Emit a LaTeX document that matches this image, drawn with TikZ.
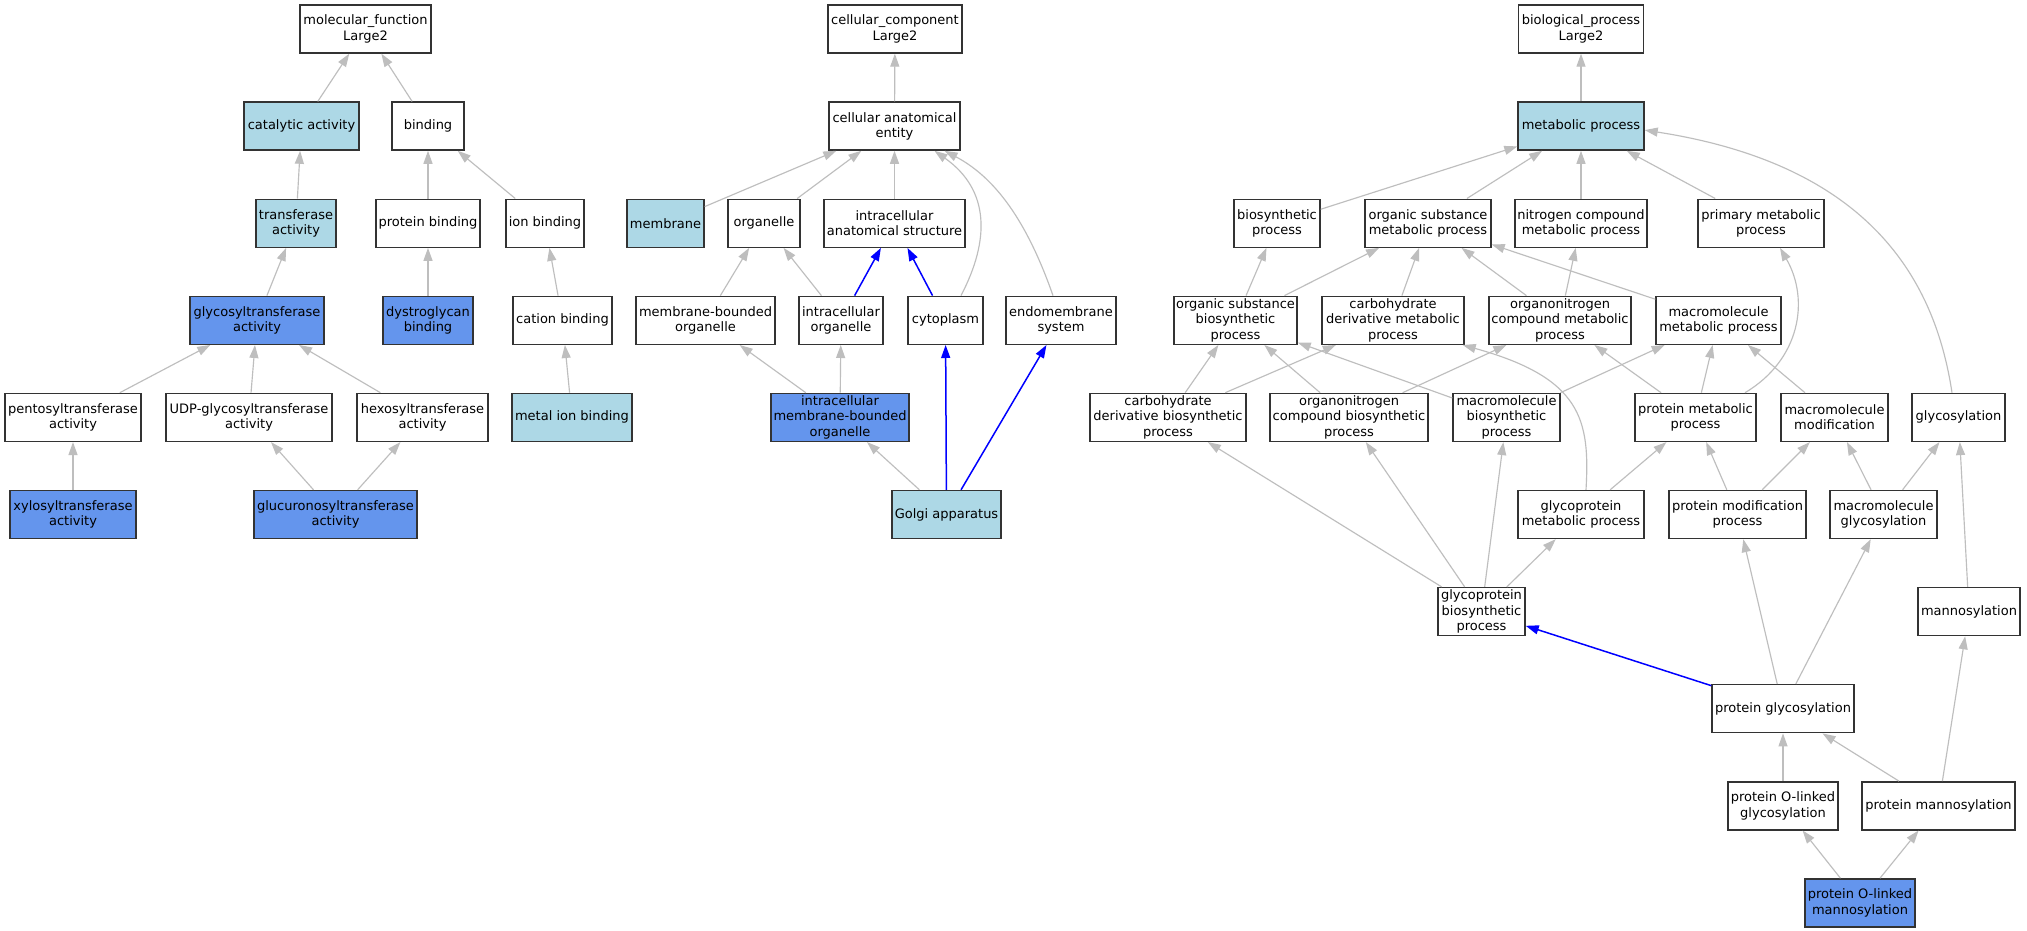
\documentclass[tikz,border=0pt]{standalone}
\usepackage{fontspec}
\setmainfont{DejaVu Sans}
\usetikzlibrary{arrows.meta}
\definecolor{lb}{HTML}{ADD8E6}
\definecolor{cb}{HTML}{6495ED}
\definecolor{eg}{HTML}{BEBEBE}
\begin{document}
\begin{tikzpicture}[x=1pt,y=-1pt,
  go/.style={draw=black!80, line width=1.4pt, fill=white, align=center,
    minimum height=48pt, inner xsep=0.5pt, inner ysep=0.5pt,
    font=\fontsize{13}{15.3}\selectfont},
  lbn/.style={go, fill=lb},
  cbn/.style={go, fill=cb},
  ge/.style={draw=eg, line width=1.15pt, -{Triangle[length=13pt,width=9pt]}},
  be/.style={draw=blue, line width=1.5pt, -{Triangle[length=13pt,width=9pt]}}]
\useasboundingbox (0,0) rectangle (2027,931);
\fill[white] (0,0) rectangle (2027,931);
% ---------- molecular function ----------
\node[go, minimum width=131pt] (mf) at (365.5,29) {molecular\_function\\Large2};
\node[lbn, minimum width=115pt] (cat) at (301.5,126.1) {catalytic activity};
\node[go, minimum width=72pt] (bind) at (428,126.1) {binding};
\node[lbn, minimum width=80pt] (trans) at (296,223.2) {transferase\\activity};
\node[go, minimum width=104pt] (pbind) at (428,223.2) {protein binding};
\node[go, minimum width=78pt] (ion) at (545,223.2) {ion binding};
\node[cbn, minimum width=134pt] (gt) at (257,320.3) {glycosyltransferase\\activity};
\node[cbn, minimum width=90pt] (dys) at (428,320.3) {dystroglycan\\binding};
\node[go, minimum width=99pt] (cation) at (562.5,320.3) {cation binding};
\node[go, minimum width=136pt] (pent) at (73,417.4) {pentosyltransferase\\activity};
\node[go, minimum width=166pt] (udp) at (249,417.4) {UDP-glycosyltransferase\\activity};
\node[go, minimum width=131pt] (hex) at (422.5,417.4) {hexosyltransferase\\activity};
\node[lbn, minimum width=120pt] (metal) at (572,417.4) {metal ion binding};
\node[cbn, minimum width=126pt] (xyl) at (73,514.5) {xylosyltransferase\\activity};
\node[cbn, minimum width=163pt] (glu) at (335.5,514.5) {glucuronosyltransferase\\activity};
% ---------- cellular component ----------
\node[go, minimum width=134pt] (cc) at (895,29) {cellular\_component\\Large2};
\node[go, minimum width=131pt] (cae) at (894.5,126.1) {cellular anatomical\\entity};
\node[lbn, minimum width=77pt] (memb) at (665.5,223.2) {membrane};
\node[go, minimum width=72pt] (org) at (764,223.2) {organelle};
\node[go, minimum width=141pt] (ias) at (894.5,223.2) {intracellular\\anatomical structure};
\node[go, minimum width=139pt] (mbo) at (705.5,320.3) {membrane-bounded\\organelle};
\node[go, minimum width=84pt] (io) at (841,320.3) {intracellular\\organelle};
\node[go, minimum width=75pt] (cyto) at (945.5,320.3) {cytoplasm};
\node[go, minimum width=110pt] (endo) at (1061,320.3) {endomembrane\\system};
\node[cbn, minimum width=138pt] (imbo) at (840,417.4) {intracellular\\membrane-bounded\\organelle};
\node[lbn, minimum width=109pt] (golgi) at (946.5,514.5) {Golgi apparatus};
% ---------- biological process ----------
\node[go, minimum width=125pt] (bp) at (1581,29) {biological\_process\\Large2};
\node[lbn, minimum width=126pt] (met) at (1581,126.1) {metabolic process};
\node[go, minimum width=86pt] (bio) at (1277,223.2) {biosynthetic\\process};
\node[go, minimum width=126pt] (osm) at (1428,223.2) {organic substance\\metabolic process};
\node[go, minimum width=132pt] (ncm) at (1581,223.2) {nitrogen compound\\metabolic process};
\node[go, minimum width=126pt] (prim) at (1761,223.2) {primary metabolic\\process};
\node[go, minimum width=123pt] (osb) at (1235.5,320.3) {organic substance\\biosynthetic\\process};
\node[go, minimum width=142pt] (cdm) at (1393,320.3) {carbohydrate\\derivative metabolic\\process};
\node[go, minimum width=142pt] (onm) at (1560,320.3) {organonitrogen\\compound metabolic\\process};
\node[go, minimum width=125pt] (mmp) at (1718.5,320.3) {macromolecule\\metabolic process};
\node[go, minimum width=156pt] (cdb) at (1168,417.4) {carbohydrate\\derivative biosynthetic\\process};
\node[go, minimum width=158pt] (onb) at (1349,417.4) {organonitrogen\\compound biosynthetic\\process};
\node[go, minimum width=107pt] (mb) at (1506.5,417.4) {macromolecule\\biosynthetic\\process};
\node[go, minimum width=121pt] (pmp) at (1695.5,417.4) {protein metabolic\\process};
\node[go, minimum width=107pt] (mm) at (1834.5,417.4) {macromolecule\\modification};
\node[go, minimum width=93pt] (glyc) at (1958.5,417.4) {glycosylation};
\node[go, minimum width=126pt] (gpm) at (1581,514.5) {glycoprotein\\metabolic process};
\node[go, minimum width=137pt] (pm) at (1737.5,514.5) {protein modification\\process};
\node[go, minimum width=107pt] (mg) at (1883.5,514.5) {macromolecule\\glycosylation};
\node[go, minimum width=102pt] (mann) at (1969,611.6) {mannosylation};
\node[go, minimum width=87pt] (gpb) at (1481.5,611.6) {glycoprotein\\biosynthetic\\process};
\node[go, minimum width=142pt] (pg) at (1783,708.7) {protein glycosylation};
\node[go, minimum width=110pt] (pol) at (1783,805.8) {protein O-linked\\glycosylation};
\node[go, minimum width=153pt] (pman) at (1938.5,805.8) {protein mannosylation};
\node[cbn, minimum width=110pt] (polm) at (1860,902.9) {protein O-linked\\mannosylation};
% ---------- MF edges ----------
\draw[ge] (cat) -- (mf);
\draw[ge] (bind) -- (mf);
\draw[ge] (trans) -- (cat);
\draw[ge] (pbind) -- (bind);
\draw[ge] (ion) -- (bind);
\draw[ge] (gt) -- (trans);
\draw[ge] (dys) -- (pbind);
\draw[ge] (cation) -- (ion);
\draw[ge] (pent) -- (gt);
\draw[ge] (udp) -- (gt);
\draw[ge] (hex) -- (gt);
\draw[ge] (metal) -- (cation);
\draw[ge] (xyl) -- (pent);
\draw[ge] (glu) -- (udp);
\draw[ge] (glu) -- (hex);
% ---------- CC edges ----------
\draw[ge] (cae) -- (cc);
\draw[ge] (memb) -- (cae);
\draw[ge] (org) -- (cae);
\draw[ge] (ias) -- (cae);
\draw[ge] ([xshift=15.5pt]cyto.north) .. controls (990,240) and (990,190) .. ([xshift=40pt]cae.south);
\draw[ge] ([xshift=-8pt]endo.north) .. controls (1030,230) and (1000,180) .. ([xshift=50pt]cae.south);
\draw[ge] (mbo) -- (org);
\draw[ge] (io) -- (org);
\draw[be] (io) -- (ias);
\draw[be] (cyto) -- (ias);
\draw[ge] (imbo) -- (mbo);
\draw[ge] (imbo) -- (io);
\draw[ge] (golgi) -- (imbo);
\draw[be] (golgi) -- (cyto);
\draw[be] (golgi) -- (endo);
% ---------- BP edges ----------
\draw[ge] (met) -- (bp);
\draw[ge] (bio) -- (met);
\draw[ge] (osm) -- (met);
\draw[ge] (ncm) -- (met);
\draw[ge] (prim) -- (met);
\draw[ge] ([xshift=-6.5pt]glyc.north) .. controls (1935,280) and (1870,165) .. ([yshift=-4pt]met.east);
\draw[ge] (osb) -- (bio);
\draw[ge] (osb) -- (osm);
\draw[ge] (cdm) -- (osm);
\draw[ge] (onm) -- (osm);
\draw[ge] (onm) -- (ncm);
\draw[ge] (mmp) -- (osm);
\draw[ge] (cdb) -- (osb);
\draw[ge] (cdb) -- (cdm);
\draw[ge] (onb) -- (osb);
\draw[ge] (onb) -- (onm);
\draw[ge] (mb) -- (osb);
\draw[ge] (mb) -- (mmp);
\draw[ge] (pmp) -- (onm);
\draw[ge] (pmp) -- (mmp);
\draw[ge] ([xshift=49.5pt]pmp.north) .. controls (1800,360) and (1810,300) .. ([xshift=19pt]prim.south);
\draw[ge] (mm) -- (mmp);
\draw[ge] ([xshift=5pt]gpm.north) .. controls (1590,420) and (1582,378) .. ([xshift=-2pt]cdm.south east);
\draw[ge] (gpm) -- (pmp);
\draw[ge] (pm) -- (pmp);
\draw[ge] (pm) -- (mm);
\draw[ge] (mg) -- (mm);
\draw[ge] (mg) -- (glyc);
\draw[ge] (mann) -- (glyc);
\draw[ge] (gpb) -- (cdb);
\draw[ge] (gpb) -- (onb);
\draw[ge] (gpb) -- (mb);
\draw[ge] (gpb) -- (gpm);
\draw[be] (pg) -- (gpb);
\draw[ge] (pg) -- (pm);
\draw[ge] (pg) -- (mg);
\draw[ge] (pol) -- (pg);
\draw[ge] (pman) -- (pg);
\draw[ge] (pman) -- (mann);
\draw[ge] (polm) -- (pol);
\draw[ge] (polm) -- (pman);
\end{tikzpicture}
\end{document}
